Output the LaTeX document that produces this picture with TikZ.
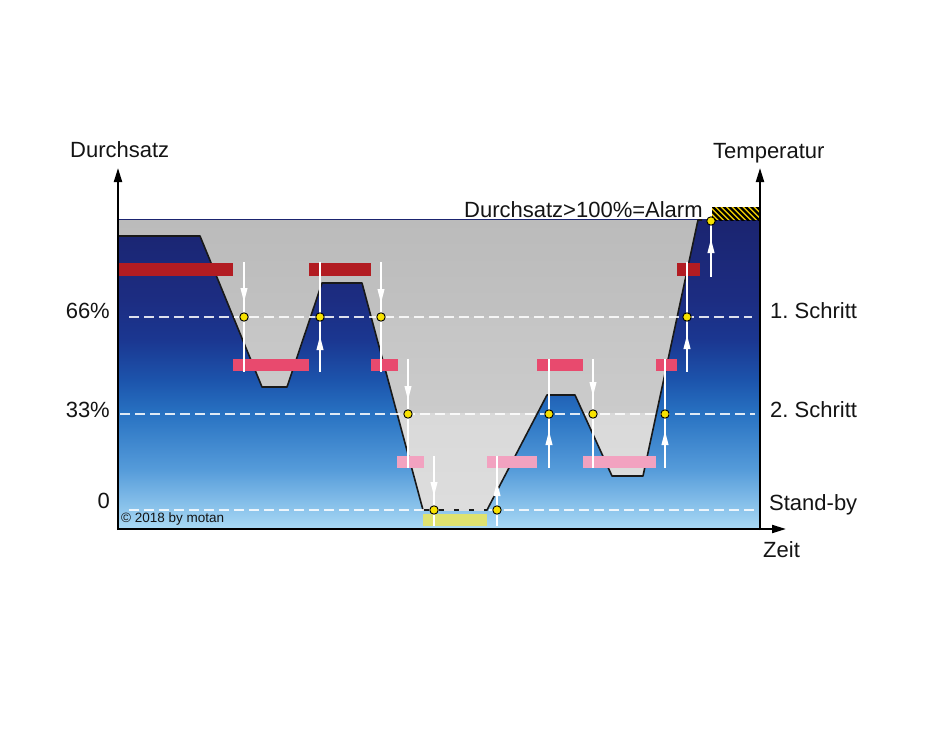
\documentclass[tikz,border=0pt]{standalone}
\usepackage{fontspec}
\setmainfont{Liberation Sans}
\usetikzlibrary{arrows.meta}
\definecolor{barred}{RGB}{178,28,34}
\definecolor{barpink}{RGB}{232,74,110}
\definecolor{barlpink}{RGB}{242,162,192}
\definecolor{baryel}{RGB}{222,226,112}
\definecolor{dotyel}{RGB}{248,226,0}
\definecolor{hatchyel}{RGB}{246,210,0}
\definecolor{bA}{RGB}{27,36,112}
\definecolor{bB}{RGB}{28,45,130}
\definecolor{bC}{RGB}{27,55,145}
\definecolor{bD}{RGB}{28,84,172}
\definecolor{bE}{RGB}{40,114,194}
\definecolor{bF}{RGB}{86,156,218}
\definecolor{bG}{RGB}{170,218,245}
\definecolor{gA}{RGB}{187,187,187}
\definecolor{gB}{RGB}{193,193,193}
\definecolor{gC}{RGB}{197,197,197}
\definecolor{gD}{RGB}{203,203,203}
\definecolor{gE}{RGB}{217,217,217}
\definecolor{gF}{RGB}{222,222,222}
\definecolor{txt}{RGB}{20,20,20}
\begin{document}
\begin{tikzpicture}[x=1pt,y=-1pt,
  axisline/.style={line width=2pt, draw=black, -{Triangle[length=14pt,width=8pt]}},
  curveline/.style={line width=1.6pt, draw=black!90, line join=round},
  levelline/.style={draw=white, draw opacity=0.85, line width=2pt, dash pattern=on 10pt off 5pt},
  vline/.style={draw=white, line width=1.8pt},
  marker/.style={fill=dotyel, draw=black, line width=0.9pt},
  lbl/.style={inner sep=0pt, text=txt, font=\fontsize{22}{26}\selectfont},
  smalllbl/.style={inner sep=0pt, text=txt, font=\fontsize{13.5}{16}\selectfont}
]
\useasboundingbox (0,0) rectangle (930,744);
\fill[white] (0,0) rectangle (930,744);

% blue background gradient
\shade[top color=bA, bottom color=bB] (118,219.5) rectangle (760,300.5);
\shade[top color=bB, bottom color=bC] (118,300) rectangle (760,340.5);
\shade[top color=bC, bottom color=bD] (118,340) rectangle (760,380.5);
\shade[top color=bD, bottom color=bE] (118,380) rectangle (760,413.5);
\shade[top color=bE, bottom color=bF] (118,413) rectangle (760,470.5);
\shade[top color=bF, bottom color=bG] (118,470) rectangle (760,529);

% gray region
\begin{scope}
\clip (118,220) -- (698,220) -- (643,476) -- (612,476) -- (575,395) -- (547,395)
  -- (487,510) -- (423,510) -- (362,283) -- (322,283) -- (287,387) -- (262,387)
  -- (200,236) -- (118,236) -- cycle;
\shade[top color=gA, bottom color=gB] (118,219) rectangle (760,317.5);
\shade[top color=gC, bottom color=gD] (118,317) rectangle (760,413.5);
\shade[top color=gE, bottom color=gF] (118,413) rectangle (760,529);
\end{scope}

% boundary curve
\draw[curveline] (118,236) -- (200,236) -- (262,387) -- (287,387) -- (322,283) -- (362,283)
  -- (423,510) -- (487,510) -- (547,395) -- (575,395) -- (612,476) -- (643,476) -- (698,220) -- (702,220);

% hatch (alarm)
\begin{scope}
\clip (712,207) rectangle (760,220);
\fill[hatchyel] (712,207) rectangle (760,220);
\foreach \h in {700,705.5,...,766} \draw[black, line width=2.3pt] (\h,205) -- (\h+17,222);
\end{scope}

% bars
\fill[barred] (118,263) rectangle (233,276);
\fill[barred] (309,263) rectangle (371,276);
\fill[barred] (677,263) rectangle (700,276);
\fill[barpink] (233,359) rectangle (309,371);
\fill[barpink] (371,359) rectangle (398,371);
\fill[barpink] (537,359) rectangle (583,371);
\fill[barpink] (656,359) rectangle (677,371);
\fill[barlpink] (397,456) rectangle (424,468);
\fill[barlpink] (487,456) rectangle (537,468);
\fill[barlpink] (583,456) rectangle (656,468);
\fill[baryel] (423,514) rectangle (487,526);

% level lines
\draw[levelline] (129,317) -- (752,317);
\draw[levelline] (120,413.5) -- (755,413.5);
\draw[levelline] (129,510) -- (755,510);

% vertical transition lines
\foreach \x/\a/\b in {244/262/372, 320/262/372, 381/262/372, 408/359/468, 434/456/526,
  497/456/526, 549/359/468, 593/359/468, 665/359/468, 687/262/372, 711/221/277}
  \draw[vline] (\x,\a) -- (\x,\b);

% arrowheads: x / tip y / direction (1 = down, -1 = up)
\foreach \x/\t/\d in {244/302/1, 320/336/-1, 381/303/1, 408/400/1, 434/496/1,
  497/482/-1, 549/431/-1, 593/396/1, 665/431/-1, 687/335/-1, 711/239/-1}
  \fill[white] ({\x-3.6},{\t-14*\d}) -- ({\x+3.6},{\t-14*\d}) -- (\x,\t) -- cycle;

% dots
\foreach \x/\y in {244/317, 320/317, 381/317, 687/317, 408/414, 549/414, 593/414,
  665/414, 434/510, 497/510, 711/221}
  \filldraw[marker] (\x,\y) circle (4.2);

% axes
\draw[axisline] (118,530) -- (118,168);
\draw[axisline] (760,530) -- (760,168);
\draw[axisline] (117,529) -- (786,529);

% labels
\node[lbl, anchor=base west] (ldurch) at (70,157) {Durchsatz};
\node[lbl, anchor=base west] (ltemp) at (713,158) {Temperatur};
\node[lbl, anchor=base west] (lalarm) at (464,217) {Durchsatz>100\%=Alarm};
\node[lbl, anchor=base east] (l66) at (110,318) {66\%};
\node[lbl, anchor=base east] (l33) at (110,417) {33\%};
\node[lbl, anchor=base east] (l0) at (110,508) {0};
\node[lbl, anchor=base west] (ls1) at (770,318) {1.\ Schritt};
\node[lbl, anchor=base west] (ls2) at (770,417) {2.\ Schritt};
\node[lbl, anchor=base west] (lsb) at (769,510) {Stand-by};
\node[lbl, anchor=base west] (lzeit) at (763,557) {Zeit};
\node[smalllbl, anchor=base west] (lcopy) at (121,522) {© 2018 by motan};
\end{tikzpicture}
\end{document}
